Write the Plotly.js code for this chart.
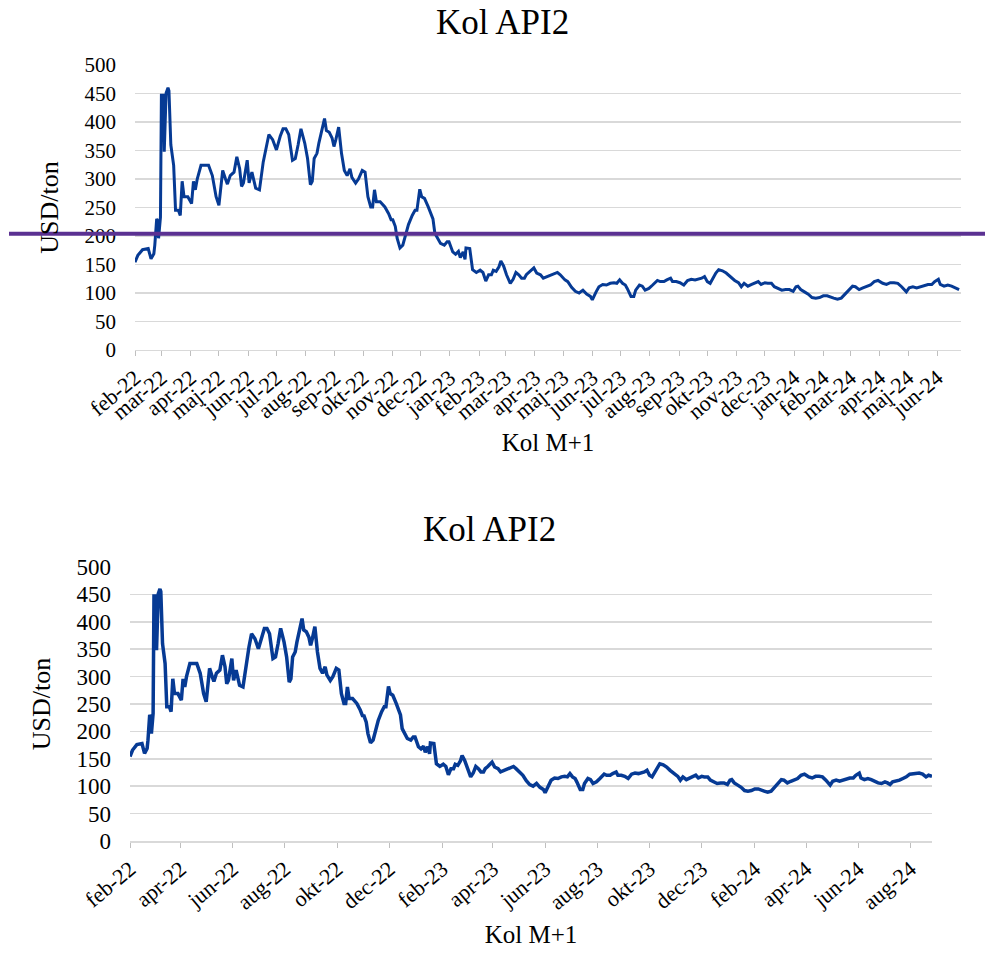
<!DOCTYPE html>
<html>
<head>
<meta charset="utf-8">
<script src="https://cdn.plot.ly/plotly-3.0.1.min.js"></script>
<style>
  html, body { margin: 0; padding: 0; background: #ffffff; }
  #chart { width: 985px; height: 976px; }
</style>
</head>
<body>
<div id="chart"></div>
<script>
// ---- Data ----
const dates = [
'2022-02-01','2022-02-04','2022-02-09','2022-02-15','2022-02-18','2022-02-21','2022-02-22','2022-02-24','2022-02-25','2022-02-26',
'2022-02-28','2022-03-01','2022-03-03','2022-03-04','2022-03-06','2022-03-08','2022-03-09','2022-03-11','2022-03-14','2022-03-16',
'2022-03-19','2022-03-21','2022-03-23','2022-03-25','2022-03-29','2022-04-02','2022-04-04','2022-04-06','2022-04-08','2022-04-12',
'2022-04-16','2022-04-20','2022-04-24','2022-04-28','2022-05-01','2022-05-05','2022-05-08','2022-05-10','2022-05-13','2022-05-17',
'2022-05-20','2022-05-23','2022-05-25','2022-05-27','2022-05-31','2022-06-02','2022-06-05','2022-06-09','2022-06-13','2022-06-17',
'2022-06-20','2022-06-23','2022-06-27','2022-07-01','2022-07-05','2022-07-08','2022-07-11','2022-07-14','2022-07-18','2022-07-21',
'2022-07-24','2022-07-27','2022-07-31','2022-08-03','2022-08-06','2022-08-08','2022-08-10','2022-08-13','2022-08-15','2022-08-18',
'2022-08-21','2022-08-23','2022-08-26','2022-08-29','2022-08-31','2022-09-02','2022-09-05','2022-09-08','2022-09-11','2022-09-14',
'2022-09-17','2022-09-19','2022-09-23','2022-09-26','2022-09-30','2022-10-03','2022-10-06','2022-10-09','2022-10-11','2022-10-13',
'2022-10-15','2022-10-19','2022-10-24','2022-10-28','2022-10-31','2022-11-01','2022-11-04','2022-11-06','2022-11-09','2022-11-12',
'2022-11-15','2022-11-18','2022-11-22','2022-11-25','2022-11-27','2022-11-30','2022-12-02','2022-12-05','2022-12-09','2022-12-13',
'2022-12-14','2022-12-16','2022-12-19','2022-12-22','2022-12-26','2022-12-29','2022-12-31','2023-01-04','2023-01-07','2023-01-10',
'2023-01-12','2023-01-15','2023-01-17','2023-01-18','2023-01-22','2023-01-25','2023-01-29','2023-02-02','2023-02-05','2023-02-08',
'2023-02-11','2023-02-14','2023-02-16','2023-02-19','2023-02-22','2023-02-24','2023-02-27','2023-03-02','2023-03-06','2023-03-09',
'2023-03-12','2023-03-15','2023-03-18','2023-03-21','2023-03-23','2023-03-26','2023-03-31','2023-04-03','2023-04-07','2023-04-10',
'2023-04-15','2023-04-21','2023-04-25','2023-04-28','2023-05-03','2023-05-06','2023-05-10','2023-05-14','2023-05-18','2023-05-22',
'2023-05-26','2023-05-30','2023-06-01','2023-06-05','2023-06-08','2023-06-12','2023-06-16','2023-06-20','2023-06-24','2023-06-27',
'2023-06-30','2023-07-03','2023-07-06','2023-07-08','2023-07-12','2023-07-15','2023-07-17','2023-07-21','2023-07-24','2023-07-27',
'2023-07-31','2023-08-04','2023-08-09','2023-08-12','2023-08-16','2023-08-19','2023-08-23','2023-08-25','2023-08-29','2023-09-02',
'2023-09-06','2023-09-10','2023-09-14','2023-09-18','2023-09-21','2023-09-25','2023-09-28','2023-10-01','2023-10-04','2023-10-07',
'2023-10-10','2023-10-13','2023-10-17','2023-10-21','2023-10-25','2023-10-30','2023-11-03','2023-11-06','2023-11-09','2023-11-13',
'2023-11-17','2023-11-21','2023-11-24','2023-11-27','2023-12-01','2023-12-04','2023-12-08','2023-12-11','2023-12-15','2023-12-19',
'2023-12-23','2023-12-27','2023-12-31','2024-01-03','2024-01-05','2024-01-08','2024-01-12','2024-01-16','2024-01-20','2024-01-24',
'2024-01-28','2024-02-01','2024-02-05','2024-02-09','2024-02-12','2024-02-16','2024-02-20','2024-02-24','2024-02-28','2024-03-03',
'2024-03-06','2024-03-10','2024-03-14','2024-03-18','2024-03-22','2024-03-26','2024-03-30','2024-04-01','2024-04-04','2024-04-08',
'2024-04-12','2024-04-16','2024-04-20','2024-04-24','2024-04-28','2024-04-29','2024-05-02','2024-05-06','2024-05-10','2024-05-14',
'2024-05-18','2024-05-22','2024-05-26','2024-05-29','2024-06-02','2024-06-04','2024-06-08','2024-06-12','2024-06-16','2024-06-20',
'2024-06-24','2024-06-28','2024-07-02','2024-07-05','2024-07-08','2024-07-11','2024-07-15','2024-07-19','2024-07-23','2024-07-27',
'2024-07-31','2024-08-04','2024-08-07','2024-08-11','2024-08-15','2024-08-19','2024-08-22','2024-08-26'
];
const prices = [
154,166,176,178,160,169,184,230,227,196,
233,447,447,348,451,460,455,360,324,245,
245,236,296,269,269,257,296,281,300,324,
324,324,306,269,254,315,300,291,306,312,
339,318,287,293,333,293,312,284,281,330,
354,378,369,351,375,388,388,378,333,336,
360,388,363,336,290,296,336,345,363,385,
406,385,382,372,357,369,391,345,315,306,
318,303,293,300,315,312,269,251,251,281,
260,260,251,239,227,230,217,196,179,184,
202,220,236,245,245,282,269,266,251,236,
230,205,196,187,184,190,190,172,168,173,
162,172,159,179,178,141,136,140,136,121,
132,132,140,138,146,156,147,132,117,124,
136,132,126,126,132,136,144,135,132,126,
129,134,136,132,123,120,110,103,100,105,
98,94,88,102,111,115,114,117,118,117,
123,117,114,108,94,94,105,114,112,105,
108,114,122,120,120,123,126,120,120,118,
114,122,124,123,124,126,129,120,117,126,
135,141,139,135,129,122,118,111,117,112,
115,118,120,115,118,117,117,111,108,105,
106,106,103,111,112,106,102,98,92,91,
92,95,95,92,91,89,91,98,105,112,
111,106,109,112,114,120,122,120,117,115,
118,118,117,111,105,102,109,111,109,111,
114,115,115,120,124,115,112,114,112,109,
106,105,108,106,103,108,109,111,114,117,
122,123,124,124,122,117,120,118
];

const topEndDate = '2024-06-26';
const bottomEndDate = '2024-08-26';
const startDate = '2022-02-01';
const referenceLevel = 204;

const topTickVals = ['2022-02-01','2022-03-01','2022-04-01','2022-05-01','2022-06-01','2022-07-01','2022-08-01','2022-09-01','2022-10-01','2022-11-01','2022-12-01','2023-01-01','2023-02-01','2023-03-01','2023-04-01','2023-05-01','2023-06-01','2023-07-01','2023-08-01','2023-09-01','2023-10-01','2023-11-01','2023-12-01','2024-01-01','2024-02-01','2024-03-01','2024-04-01','2024-05-01','2024-06-01'];
const topTickText = ['feb-22','mar-22','apr-22','maj-22','jun-22','jul-22','aug-22','sep-22','okt-22','nov-22','dec-22','jan-23','feb-23','mar-23','apr-23','maj-23','jun-23','jul-23','aug-23','sep-23','okt-23','nov-23','dec-23','jan-24','feb-24','mar-24','apr-24','maj-24','jun-24'];
const bottomTickVals = ['2022-02-01','2022-04-01','2022-06-01','2022-08-01','2022-10-01','2022-12-01','2023-02-01','2023-04-01','2023-06-01','2023-08-01','2023-10-01','2023-12-01','2024-02-01','2024-04-01','2024-06-01','2024-08-01'];
const bottomTickText = ['feb-22','apr-22','jun-22','aug-22','okt-22','dec-22','feb-23','apr-23','jun-23','aug-23','okt-23','dec-23','feb-24','apr-24','jun-24','aug-24'];

const chartTitle = 'Kol API2';
const xTitle = 'Kol M+1';
const yTitle = 'USD/ton';

// ---- Build ----
const W = 985, H = 976;
const FONT = '"Liberation Serif", "Times New Roman", serif';
const LINE_COLOR = '#063a94';
const GRID = '#d9d9d9';

const topX = [], topY = [];
for (let i = 0; i < dates.length; i++) {
  if (dates[i] <= topEndDate) { topX.push(dates[i]); topY.push(prices[i]); }
}

const traces = [
  { type: 'scatter', mode: 'lines', x: topX, y: topY, xaxis: 'x', yaxis: 'y',
    line: { color: LINE_COLOR, width: 3 }, hoverinfo: 'skip' },
  { type: 'scatter', mode: 'lines', x: dates, y: prices, xaxis: 'x2', yaxis: 'y2',
    line: { color: LINE_COLOR, width: 3.5 }, hoverinfo: 'skip' }
];

function px(x) { return x / W; }
function py(y) { return 1 - y / H; }

function xAxis(domain, anchor, range, vals, text, fs, ang, lw, so) {
  return {
    domain: domain, anchor: anchor, type: 'date', range: range,
    tickmode: 'array', tickvals: vals, ticktext: text, tickangle: ang,
    tickfont: { family: FONT, size: fs, color: '#000' },
    ticks: 'outside', ticklen: 5, tickwidth: 1, tickcolor: '#bfbfbf',
    showgrid: false, showline: true, linecolor: GRID, linewidth: lw,
    zeroline: false, automargin: false,
    title: { text: xTitle, font: { family: FONT, size: 25, color: '#000' }, standoff: so }
  };
}
function yAxis(domain, anchor, fs, lw) {
  return {
    domain: domain, anchor: anchor, range: [0, 500], dtick: 50, tick0: 0,
    tickfont: { family: FONT, size: fs, color: '#000' },
    ticks: '', ticklabelstandoff: 18,
    showgrid: true, gridcolor: GRID, gridwidth: lw,
    zeroline: false, showline: false, automargin: false,
    title: { text: yTitle, font: { family: FONT, size: 26, color: '#000' }, standoff: 18 }
  };
}

const layout = {
  width: W, height: H,
  margin: { l: 0, r: 0, t: 0, b: 0, pad: 0 },
  paper_bgcolor: '#ffffff', plot_bgcolor: '#ffffff',
  showlegend: false,
  xaxis: xAxis([px(135), px(961)], 'y', [startDate, topEndDate], topTickVals, topTickText, 22, -40, 1.3, 10),
  yaxis: yAxis([py(350), py(65)], 'x', 21, 1.3),
  xaxis2: xAxis([px(130), px(932)], 'y2', [startDate, bottomEndDate], bottomTickVals, bottomTickText, 22, -40, 1.6, 12),
  yaxis2: yAxis([py(841), py(567)], 'x2', 23, 1.6),
  annotations: [
    { text: chartTitle, xref: 'paper', yref: 'paper', x: px(502), y: py(22),
      xanchor: 'center', yanchor: 'middle', showarrow: false,
      font: { family: FONT, size: 35, color: '#000' } },
    { text: chartTitle, xref: 'paper', yref: 'paper', x: px(489), y: py(529),
      xanchor: 'center', yanchor: 'middle', showarrow: false,
      font: { family: FONT, size: 35, color: '#000' } }
  ],
  shapes: [
    { type: 'line', xref: 'paper', yref: 'y', x0: px(9), x1: 1, y0: referenceLevel, y1: referenceLevel,
      line: { color: '#5b3192', width: 4 }, layer: 'above' }
  ]
};

Plotly.newPlot('chart', traces, layout, { staticPlot: true, displayModeBar: false });
</script>
</body>
</html>
